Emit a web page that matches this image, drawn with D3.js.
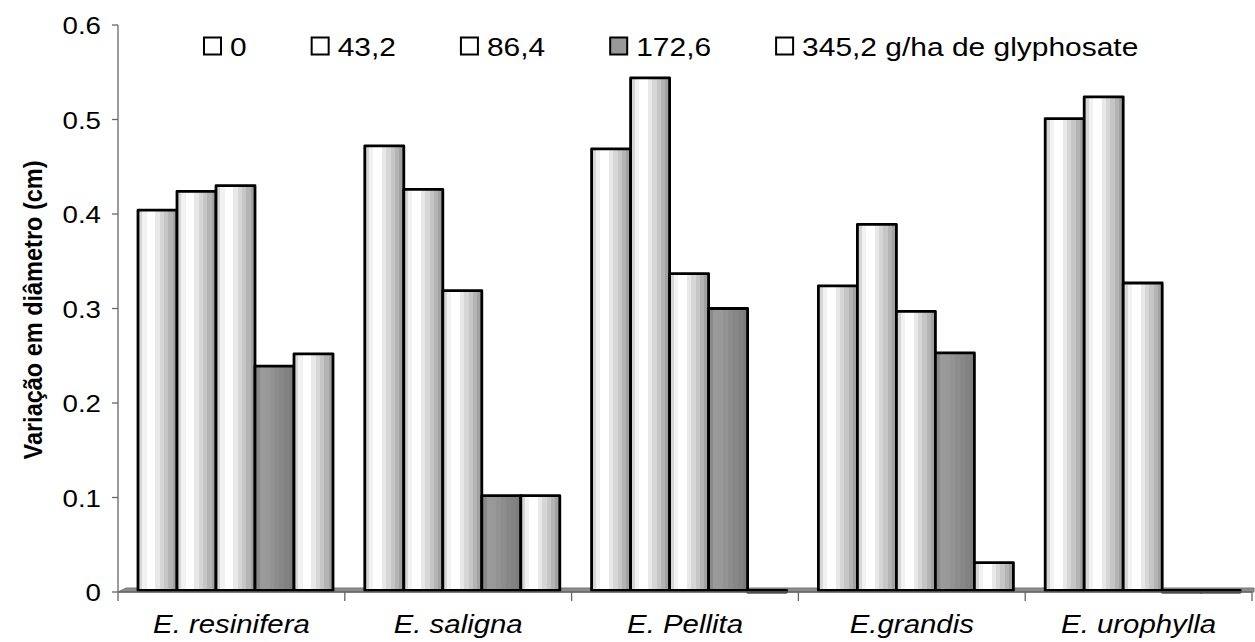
<!DOCTYPE html>
<html lang="pt">
<head>
  <meta charset="UTF-8" />
  <title>Variação em diâmetro</title>
  <script src="https://d3js.org/d3.v7.min.js"></script>
  <style>
    body { margin: 0; background: #fff; font-family: 'Liberation Sans', Arial, sans-serif; }
    svg { display: block; }
  </style>
</head>
<body>
  <svg width="1255" height="642"></svg>

  <script>
    // data
    const species = ["E. resinifera", "E. saligna", "E. Pellita", "E.grandis", "E. urophylla"];
    const doses = ["0", "43,2", "86,4", "172,6", "345,2 g/ha de glyphosate"];
    const values = [
      [0.404, 0.424, 0.430, 0.239, 0.252],
      [0.472, 0.426, 0.319, 0.102, 0.102],
      [0.469, 0.544, 0.337, 0.300, 0.000],
      [0.324, 0.389, 0.297, 0.253, 0.031],
      [0.501, 0.524, 0.327, 0.000, 0.000]
    ];
    const yTicks = [0, 0.1, 0.2, 0.3, 0.4, 0.5, 0.6];

    const SX = 1.13; // source picture is a little stretched sideways
    const svg = d3.select("svg");

    const x = d3.scaleBand().domain(species).range([118, 1252]);
    const inner = d3.scaleBand().domain(d3.range(doses.length)).range([20, 215]);
    const y = d3.scaleLinear().domain([0, 0.6]).range([592, 25]);

    // stepped grey "cylinder" fills
    const defs = svg.append("defs");
    function bands(id, cols) {
      const g = defs.append("linearGradient").attr("id", id)
        .attr("x1", "0%").attr("x2", "100%").attr("y1", "0%").attr("y2", "0%");
      const n = cols.length;
      cols.forEach((c, i) => {
        g.append("stop").attr("offset", (i / n * 100) + "%").attr("stop-color", c);
        g.append("stop").attr("offset", ((i + 1) / n * 100) + "%").attr("stop-color", c);
      });
    }
    bands("light", ["#d6d6d6", "#f2f2f2", "#ffffff", "#ffffff", "#e8e8e8", "#d6d6d6", "#c6c6c6", "#b4b4b4", "#a2a2a2"]);
    bands("dark", ["#8a8a8a", "#9a9a9a", "#999999", "#939393", "#8d8d8d", "#878787", "#828282", "#7d7d7d"]);
    const fillOf = i => i === 3 ? "url(#dark)" : "url(#light)";

    // floor
    svg.append("path")
      .attr("d", `M118,592 L126,588 L1254,588 L1254,592 Z`)
      .attr("fill", "#8c8c8c").attr("stroke", "#777").attr("stroke-width", 1);

    // bars
    const groups = svg.selectAll("g.grp")
      .data(species)
      .join("g").attr("class", "grp")
      .attr("transform", d => `translate(${x(d)},0)`);

    groups.selectAll("path.bar")
      .data((d, si) => values[si].map((v, i) => ({ v, i })))
      .join("path").attr("class", "bar")
      .attr("d", d => {
        const x0 = inner(d.i), w = inner.bandwidth();
        return `M${x0},${y(0) - 1.5} V${y(d.v)} H${x0 + w} V${y(0) - 1.5} Z`;
      })
      .attr("fill", d => fillOf(d.i))
      .attr("stroke", "#000").attr("stroke-width", 2.8)
      .attr("stroke-linejoin", "round");

    // y axis
    svg.append("line").attr("x1", 118).attr("x2", 118).attr("y1", y(0.6)).attr("y2", y(0))
      .attr("stroke", "#666").attr("stroke-width", 1.3);
    svg.selectAll("line.ytick").data(yTicks).join("line").attr("class", "ytick")
      .attr("x1", 112).attr("x2", 118).attr("y1", d => y(d)).attr("y2", d => y(d))
      .attr("stroke", "#666").attr("stroke-width", 1.3);
    svg.selectAll("text.ylab").data(yTicks).join("text").attr("class", "ylab")
      .attr("transform", d => `translate(101,${y(d) + 9}) scale(${SX},1)`)
      .attr("text-anchor", "end").attr("font-size", 24.5)
      .text(d => d === 0 ? "0" : d3.format(".1f")(d));

    // x axis
    svg.append("line").attr("x1", 118).attr("x2", 1252).attr("y1", 592).attr("y2", 592)
      .attr("stroke", "#666").attr("stroke-width", 1.3);
    const bounds = species.map(s => x(s)).concat([x.range()[1]]);
    svg.selectAll("line.xtick").data(bounds).join("line").attr("class", "xtick")
      .attr("x1", d => d).attr("x2", d => d).attr("y1", 592).attr("y2", 601)
      .attr("stroke", "#666").attr("stroke-width", 1.3);
    svg.selectAll("text.xlab").data(species).join("text").attr("class", "xlab")
      .attr("transform", d => `translate(${x(d) + x.bandwidth() / 2},${633}) scale(${SX},1)`)
      .attr("text-anchor", "middle").attr("font-size", 26).attr("font-style", "italic")
      .text(d => d);

    // y title
    svg.append("text")
      .attr("transform", `translate(42,310) scale(${SX},1) rotate(-90)`)
      .attr("text-anchor", "middle").attr("font-size", 23.5).attr("font-weight", "bold")
      .text("Variação em diâmetro (cm)");

    // legend
    let lx = 203;
    doses.forEach((d, i) => {
      const g = svg.append("g").attr("transform", `translate(${lx},0)`);
      g.append("rect").attr("x", 1).attr("y", 37.5).attr("width", 17).attr("height", 17)
        .attr("fill", i === 3 ? "#999" : "#fff").attr("stroke", "#000").attr("stroke-width", 2);
      const t = g.append("text")
        .attr("transform", `translate(27,55.5) scale(${SX},1)`)
        .attr("font-size", 26.5).text(d);
      lx += 27 + t.node().getComputedTextLength() * SX + 64;
    });
  </script>
</body>
</html>
